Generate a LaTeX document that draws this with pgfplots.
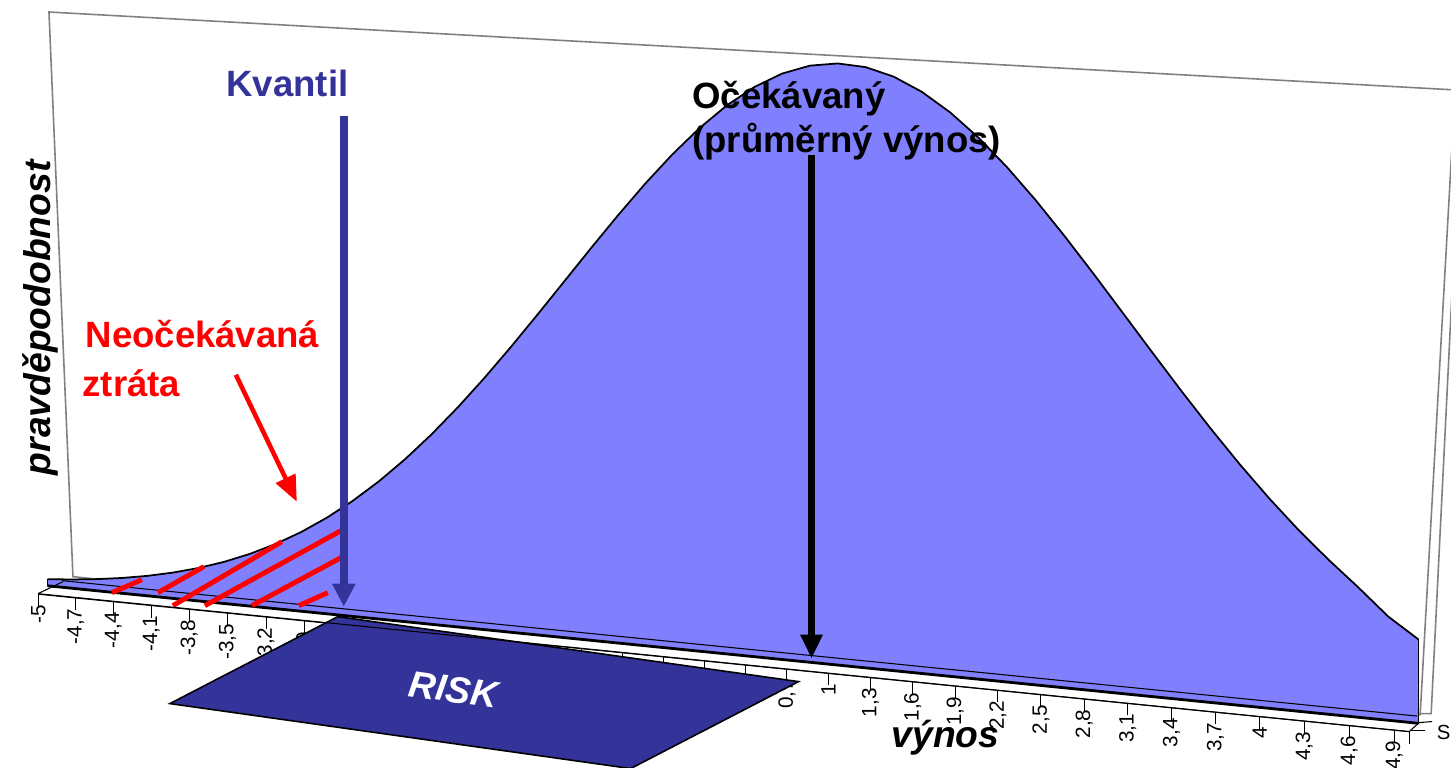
\documentclass[border=0pt]{standalone}
\usepackage{pgfplots}
\pgfplotsset{compat=1.18}
\usepackage{fontspec}
\setmainfont{Liberation Sans}
\usetikzlibrary{arrows.meta}
\definecolor{areablue}{HTML}{8080FF}
\definecolor{navy}{HTML}{333399}
\definecolor{wallgray}{HTML}{808080}
\newcommand{\annfont}{\fontsize{10.4}{12.5}\selectfont\bfseries}
\newcommand{\labfont}{\fontsize{10.6}{12.5}\selectfont\bfseries\itshape}
\newcommand{\tickfont}{\fontsize{5.9}{6.5}\selectfont}
\pgfplotsset{persp/.style={
  x={(1.371cm,-0.1375cm)}, y={(0cm,30.48cm)},
  x coord trafo/.code={\pgfmathparse{10*(0.907*((##1)+5)/10/(1-0.093*((##1)+5)/10) - 0.47562)}},
  xmin=-5, xmax=5, clip=false}}

% density (x = return, y = probability density)
\pgfplotstableread{
x y
-5.0 0.00216
-4.8 0.00290
-4.6 0.00384
-4.4 0.00505
-4.2 0.00657
-4.0 0.00847
-3.8 0.01080
-3.6 0.01364
-3.4 0.01707
-3.2 0.02115
-3.0 0.02594
-2.8 0.03152
-2.6 0.03792
-2.4 0.04516
-2.2 0.05328
-2.0 0.06223
-1.8 0.07198
-1.6 0.08245
-1.4 0.09352
-1.2 0.10504
-1.0 0.11683
-0.8 0.12867
-0.6 0.14033
-0.4 0.15156
-0.2 0.16208
0.0 0.17165
0.2 0.18001
0.4 0.18693
0.6 0.19223
0.8 0.19574
1.0 0.19738
1.2 0.19709
1.4 0.19488
1.6 0.19082
1.8 0.18502
2.0 0.17764
2.2 0.16889
2.4 0.15901
2.6 0.14825
2.8 0.13687
3.0 0.12513
3.2 0.11328
3.4 0.10155
3.6 0.09015
3.8 0.07924
4.0 0.06898
4.2 0.05946
4.4 0.05075
4.6 0.04260
4.8 0.03400
5.0 0.02750
}\densitytable
% floor of the area
\pgfplotstableread{
x y
5.0 0
-5.0 0
}\basetable

\begin{document}
\begin{tikzpicture}
% back wall
\begin{scope}[x=0.01cm,y=-0.01cm,shift={(0cm,7.67cm)}]
\draw[wallgray, line width=0.45pt] (49,12) -- (1456,90) -- (1421,715) -- (73,577) -- cycle;
\draw[wallgray, line width=0.45pt] (1453,290) -- (1432,714) -- (1421,714);
\end{scope}

% distribution ribbon
\begin{axis}[persp, at={(6.996cm,1.158cm)}, anchor=origin,
  ymin=0, ymax=0.21, hide axis]
\addplot[fill=areablue, draw=none, forget plot] table[x=x,y=y] {
x y
-5.0 0.00216
-4.8 0.00290
-4.6 0.00384
-4.4 0.00505
-4.2 0.00657
-4.0 0.00847
-3.8 0.01080
-3.6 0.01364
-3.4 0.01707
-3.2 0.02115
-3.0 0.02594
-2.8 0.03152
-2.6 0.03792
-2.4 0.04516
-2.2 0.05328
-2.0 0.06223
-1.8 0.07198
-1.6 0.08245
-1.4 0.09352
-1.2 0.10504
-1.0 0.11683
-0.8 0.12867
-0.6 0.14033
-0.4 0.15156
-0.2 0.16208
0.0 0.17165
0.2 0.18001
0.4 0.18693
0.6 0.19223
0.8 0.19574
1.0 0.19738
1.2 0.19709
1.4 0.19488
1.6 0.19082
1.8 0.18502
2.0 0.17764
2.2 0.16889
2.4 0.15901
2.6 0.14825
2.8 0.13687
3.0 0.12513
3.2 0.11328
3.4 0.10155
3.6 0.09015
3.8 0.07924
4.0 0.06898
4.2 0.05946
4.4 0.05075
4.6 0.04260
4.8 0.03400
5.0 0.02750
5.0 0
-5.0 0
};
\addplot[draw=black, line width=0.5pt] table[x=x,y=y] {\densitytable};
\addplot[draw=black, line width=0.5pt] coordinates {(5,0.0275) (5,0)};
\addplot[draw=black, line width=0.5pt] coordinates {(-5,0.00216) (-5,0)};
\addplot[draw=black, line width=0.8pt] table[x=x,y=y] {\basetable};
\end{axis}

\begin{scope}[x=0.01cm,y=-0.01cm,shift={(0cm,7.67cm)}]
\draw[line width=0.3pt] (62,581) -- (1418,716.5);
\draw[line width=0.3pt] (38,594) -- (63,582);
\begin{scope}[red, line width=1.4pt]
\draw (112,593) -- (142,580);
\draw (158,593) -- (204,567);
\draw (173,606) -- (282,542);
\draw (205,606) -- (343,530);
\draw (252,606) -- (343,557);
\draw (299,606) -- (328,593);
\end{scope}
\end{scope}

% category axis
\begin{axis}[persp, at={(6.905cm,1.074cm)}, anchor=origin,
  ymin=0, ymax=0.01,
  axis x line*=bottom, axis y line=none, ytick=\empty,
  axis line style={-, line width=0.3pt},
  tick style={black, line width=0.3pt},
  tick align=outside, major tick length=0.12cm, minor tick length=0.12cm,
  xtick={-5,-4.7,-4.4,-4.1,-3.8,-3.5,-3.2,-2.9,-2.6,-2.3,-2,-1.7,-1.4,-1.1,-0.8,-0.5,-0.2,0.1,0.4,0.7,1,1.3,1.6,1.9,2.2,2.5,2.8,3.1,3.4,3.7,4,4.3,4.6,4.9},
  xticklabels={{-5},{-4,7},{-4,4},{-4,1},{-3,8},{-3,5},{-3,2},{-2,9},{-2,6},{-2,3},{-2},{-1,7},{-1,4},{-1,1},{-0,8},{-0,5},{-0,2},{0,1},{0,4},{0,7},{1},{1,3},{1,6},{1,9},{2,2},{2,5},{2,8},{3,1},{3,4},{3,7},{4},{4,3},{4,6},{4,9}},
  minor x tick num=2,
  extra x ticks={5}, extra x tick labels={},
  xticklabel shift=-1.6pt,
  xticklabel style={rotate=90, anchor=east, font=\tickfont, inner sep=1pt}]
\addplot[draw=none] coordinates {(-5,0) (5,0)};
\end{axis}

\begin{scope}[x=0.01cm,y=-0.01cm,shift={(0cm,7.67cm)}]
% arrows
\draw[navy, line width=2.3pt, -{Triangle[length=0.23cm,width=0.22cm]}] (344,116) -- (344,607);
\draw[black, line width=1.8pt, -{Triangle[length=0.24cm,width=0.21cm]}] (812,155) -- (812,659);
\draw[red, line width=1.3pt, -{Triangle[length=0.26cm,width=0.21cm]}] (236,375) -- (297,502);
% texts
\node[anchor=base west, text=navy, font=\annfont, inner sep=0] at (226,97) {Kvantil};
\node[anchor=base west, font=\annfont, inner sep=0] at (692,109) {Očekávaný};
\node[anchor=base west, font=\annfont, inner sep=0] at (692,153) {(průměrný výnos)};
\node[anchor=base west, text=red, font=\annfont, inner sep=0] at (85,348) {Neočekávaná};
\node[anchor=base west, text=red, font=\annfont, inner sep=0] at (82,397) {ztráta};
\node[rotate=90, font=\labfont, inner sep=0] at (40,318) {pravděpodobnost};
\node[anchor=base, font=\labfont, inner sep=0] at (946,748) {výnos};
% RISK
\draw[fill=navy, line width=0.45pt] (170,704) -- (338,617) -- (799,682) -- (631,769) -- cycle;
\node[text=white, rotate=-8, font=\labfont, inner sep=0] at (454,690) {RISK};
\draw[line width=0.3pt] (38,594) -- (1410,732);
% series axis
\draw[line width=0.3pt] (1410,732) -- (1420,723) -- (1433,722);
\draw[line width=0.3pt] (1412,731) -- (1426,731);
\node[anchor=west, font=\fontsize{5.8}{6}\selectfont, inner sep=0] at (1437,733) {S};
\end{scope}

\pgfresetboundingbox
\useasboundingbox (0,0) rectangle (14.51cm,7.67cm);
\end{tikzpicture}
\end{document}
